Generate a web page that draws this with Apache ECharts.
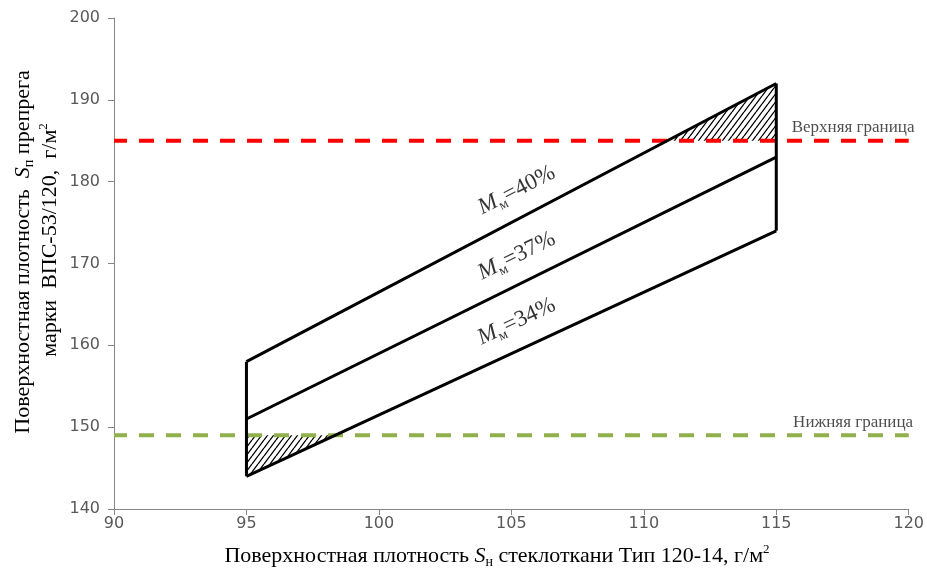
<!DOCTYPE html>
<html>
<head>
<meta charset="utf-8">
<script src="https://cdn.jsdelivr.net/npm/echarts@6/dist/echarts.min.js"></script>
<style>
  html, body { margin: 0; padding: 0; background: #fff; }
  #chart { width: 927px; height: 576px; }
</style>
</head>
<body>
<div id="chart"></div>
<script>
// данные графика
const xEnds = [95, 115];
const line40 = [158, 192];
const line37 = [151, 183];
const line34 = [144, 174];
const upperLimit = 185;
const lowerLimit = 149;
const limitSpan = [90, 120];
const lineNames = ["40%", "37%", "34%"];
const labelX = 105.2;
const labelLift = 3.6;
const limitLabelX = 117.9;

const serif = "Liberation Serif";
const lines = [line40, line37, line34];

// пересечение наклонной прямой с горизонталью
const crossX = (line, level) =>
  xEnds[0] + ((level - line[0]) * (xEnds[1] - xEnds[0])) / (line[1] - line[0]);
const lineY = (line, x) =>
  line[0] + ((x - xEnds[0]) * (line[1] - line[0])) / (xEnds[1] - xEnds[0]);

const hatchUpper = [crossX(line40, upperLimit), upperLimit, xEnds[1], line40[1], xEnds[1], upperLimit];
const hatchLower = [xEnds[0], lowerLimit, xEnds[0], line34[0], crossX(line34, lowerLimit), lowerLimit];

// штриховка
const makeHatch = () => {
  const w = 6, h = 8;
  const c = document.createElement("canvas");
  c.width = w;
  c.height = h;
  const ctx = c.getContext("2d");
  ctx.strokeStyle = "#000";
  ctx.lineWidth = 1.3;
  ctx.beginPath();
  ctx.moveTo(0, h);
  ctx.lineTo(w, 0);
  ctx.moveTo(-w, h);
  ctx.lineTo(0, 0);
  ctx.moveTo(w, h);
  ctx.lineTo(2 * w, 0);
  ctx.stroke();
  return c;
};
const hatch = makeHatch();

const blackLine = (name, data) => ({
  name,
  type: "line",
  data,
  symbol: "none",
  silent: true,
  z: 5,
  lineStyle: { color: "#000", width: 3 }
});

const dashLine = (level, color) => ({
  type: "line",
  data: [[limitSpan[0], level], [limitSpan[1], level]],
  symbol: "none",
  silent: true,
  z: 3,
  lineStyle: { color, width: 4, type: [15, 12], dashOffset: 2 }
});

const rotations = [27, 26, 25];
const mLabels = lineNames.map((n, i) => ({
  value: [labelX, lineY(lines[i], labelX) + labelLift],
  label: { rotate: rotations[i], formatter: "{i|M}{s|м}{t|=" + n + "}" }
}));

const limitLabel = (text, level) => ({
  value: [limitLabelX, level],
  label: { formatter: text, position: "top", distance: 4 }
});

const titleRich = {
  t: { fontFamily: serif, fontSize: 22, lineHeight: 26, fill: "#000", color: "#000" },
  i: { fontFamily: serif, fontSize: 22, fontStyle: "italic", lineHeight: 26, fill: "#000", color: "#000" },
  s: { fontFamily: serif, fontSize: 14, lineHeight: 14, verticalAlign: "bottom", fill: "#000", color: "#000" },
  p: { fontFamily: serif, fontSize: 13, lineHeight: 16, verticalAlign: "top", fill: "#000", color: "#000" }
};

const chart = echarts.init(document.getElementById("chart"));
const option = {
  animation: false,
  backgroundColor: "#fff",
  grid: { left: 114, right: 16, top: 18, bottom: 67 },
  xAxis: {
    type: "value",
    min: 90,
    max: 120,
    interval: 5,
    axisLine: { lineStyle: { color: "#868686", width: 1 } },
    axisTick: { show: true, length: 6, lineStyle: { color: "#868686" } },
    axisLabel: { color: "#595959", fontFamily: "DejaVu Sans", fontSize: 16, margin: 7 },
    splitLine: { show: false }
  },
  yAxis: {
    type: "value",
    min: 140,
    max: 200,
    interval: 10,
    axisLine: { show: true, lineStyle: { color: "#868686", width: 1 } },
    axisTick: { show: true, length: 6, lineStyle: { color: "#868686" } },
    axisLabel: { color: "#595959", fontFamily: "DejaVu Sans", fontSize: 16, margin: 14 },
    splitLine: { show: false }
  },
  graphic: [
    {
      type: "text",
      x: 497,
      y: 556,
      style: {
        text: "{t|Поверхностная плотность }{i|S}{s|н}{t| стеклоткани Тип 120-14, г/м}{p|2}",
        align: "center",
        verticalAlign: "middle",
        rich: titleRich
      }
    },
    {
      type: "text",
      x: 23,
      y: 252,
      rotation: Math.PI / 2,
      style: {
        text: "{t|Поверхностная плотность  }{i|S}{s|п}{t| препрега}",
        align: "center",
        verticalAlign: "middle",
        rich: titleRich
      }
    },
    {
      type: "text",
      x: 50,
      y: 240,
      rotation: Math.PI / 2,
      style: {
        text: "{t|марки  ВПС-53/120,  г/м}{p|2}",
        align: "center",
        verticalAlign: "middle",
        rich: titleRich
      }
    }
  ],
  series: [
    {
      type: "custom",
      silent: true,
      z: 1,
      data: [hatchUpper, hatchLower],
      encode: { x: [0, 2, 4], y: [1, 3, 5] },
      renderItem: (params, api) => {
        const pts = [0, 1, 2].map(k => api.coord([api.value(k * 2), api.value(k * 2 + 1)]));
        return { type: "polygon", shape: { points: pts }, style: { fill: { image: hatch, repeat: "repeat" }, stroke: null } };
      }
    },
    dashLine(upperLimit, "#ff0000"),
    dashLine(lowerLimit, "#8fb04a"),
    blackLine("40%", xEnds.map((x, i) => [x, line40[i]])),
    blackLine("37%", xEnds.map((x, i) => [x, line37[i]])),
    blackLine("34%", xEnds.map((x, i) => [x, line34[i]])),
    blackLine("left", [[xEnds[0], line34[0]], [xEnds[0], line40[0]]]),
    blackLine("right", [[xEnds[1], line34[1]], [xEnds[1], line40[1]]]),
    {
      type: "scatter",
      symbolSize: 1,
      itemStyle: { color: "transparent" },
      silent: true,
      z: 6,
      data: mLabels,
      label: {
        show: true,
        position: "inside",
        align: "center",
        verticalAlign: "middle",
        rich: {
          i: { fontFamily: serif, fontSize: 23, fontStyle: "italic", lineHeight: 28, color: "#000" },
          s: { fontFamily: serif, fontSize: 14, lineHeight: 16, verticalAlign: "bottom", color: "#000" },
          t: { fontFamily: serif, fontSize: 23, lineHeight: 28, color: "#000" }
        }
      }
    },
    {
      type: "scatter",
      symbolSize: 1,
      itemStyle: { color: "transparent" },
      silent: true,
      z: 6,
      data: [limitLabel("Верхняя граница", upperLimit), limitLabel("Нижняя граница", lowerLimit)],
      label: { show: true, fontFamily: serif, fontSize: 17, color: "#222" }
    }
  ]
};
chart.setOption(option);
</script>
</body>
</html>
